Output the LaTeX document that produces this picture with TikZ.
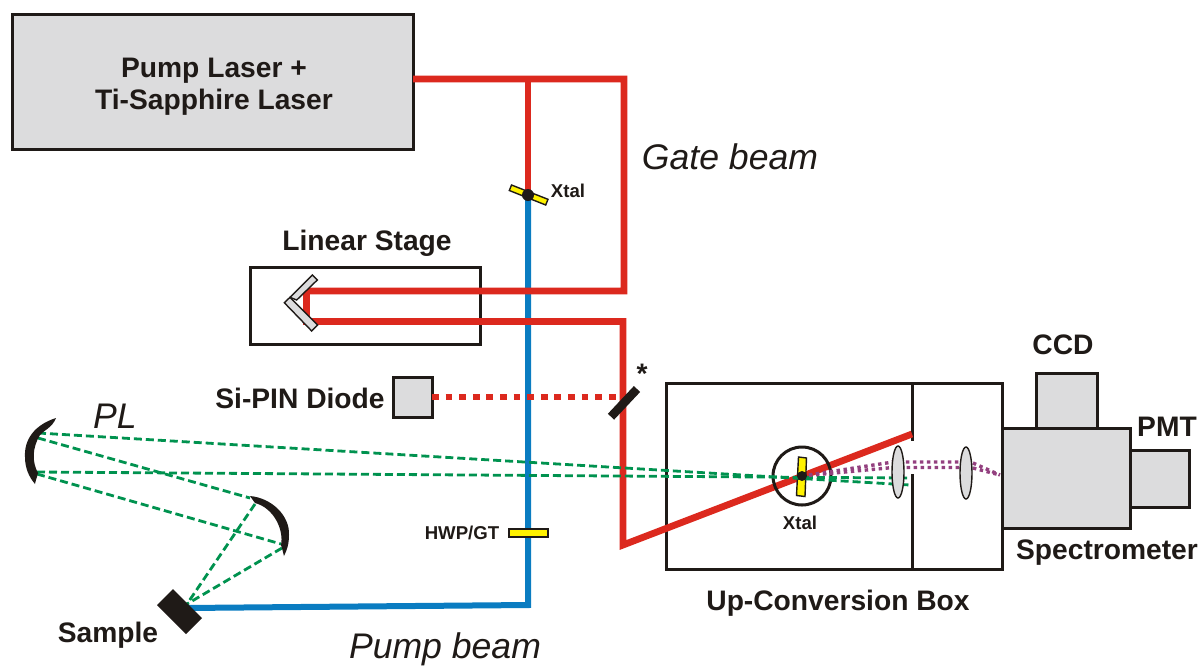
\documentclass[tikz,border=0pt]{standalone}
\usepackage{fontspec}
\setmainfont{Liberation Sans}
\definecolor{inkc}{HTML}{1F1A17}
\definecolor{redc}{HTML}{DC291E}
\definecolor{bluec}{HTML}{0A7CC1}
\definecolor{greenc}{HTML}{00924F}
\definecolor{purplec}{HTML}{93407F}
\definecolor{grayc}{HTML}{DCDCDD}
\definecolor{yelc}{HTML}{FFF200}
\tikzset{
  boxn/.style={draw=inkc,line width=1.5pt,fill=grayc,minimum width=0pt,inner sep=0pt},
  outline/.style={draw=inkc,line width=1.5pt},
  redbeam/.style={draw=redc,line width=3.4pt,line join=miter},
  bluebeam/.style={draw=bluec,line width=3pt},
  greenbeam/.style={draw=greenc,line width=1.4pt,dash pattern=on 4pt off 2pt},
  reddots/.style={draw=redc,line width=3.3pt,dash pattern=on 3.4pt off 3.4pt},
  purpledots/.style={draw=purplec,line width=1.7pt,dash pattern=on 1.7pt off 1.8pt},
  big/.style={anchor=base,text=inkc,font=\fontsize{14.1}{16}\selectfont\bfseries,inner sep=0pt},
  small/.style={anchor=base,text=inkc,font=\fontsize{9.3}{11}\selectfont\bfseries,inner sep=0pt},
  beamlabel/.style={anchor=base,text=inkc,font=\fontsize{17.8}{20}\selectfont\itshape,inner sep=0pt},
  optic/.style={fill=grayc,draw=inkc,line width=0.7pt},
  plate/.style={fill=yelc,draw=inkc,line width=0.7pt},
  blackfill/.style={fill=inkc,draw=none}
}
\begin{document}
\begin{tikzpicture}[x=0.5pt,y=-0.5pt]
\useasboundingbox (0,0) rectangle (1200,666);

% boxes
\draw[boxn] (12,14) rectangle (413,149);
\coordinate (laserout) at (413,79);
\draw[outline] (250,267) rectangle (480,344);
\draw[outline] (666,383) rectangle (1002,569);
\draw[outline] (912,383) -- (912,441);
\draw[outline] (912,474) -- (912,569);
\draw[boxn] (1036,373) rectangle (1097,428);
\draw[boxn] (1130,450) rectangle (1189,507);
\draw[boxn] (1002,428) rectangle (1130,528);
\draw[boxn] (393,377) rectangle (432,417);

% named beam points
\coordinate (split) at (528,79);
\coordinate (xt1) at (528,195);
\coordinate (pumpcorner) at (528,605);
\coordinate (samp) at (185,608);
\coordinate (xt2) at (802,476);
\coordinate (ga) at (624,79);
\coordinate (gb) at (624,291);
\coordinate (gc) at (306.5,291);
\coordinate (gd) at (306.5,321.5);
\coordinate (ge) at (623,321.5);
\coordinate (gf) at (623,545);
\coordinate (gg) at (912,434);
\coordinate (m1a) at (38,433);
\coordinate (m1b) at (38,438);
\coordinate (m1c) at (37,472);
\coordinate (m1d) at (37,474);
\coordinate (m2a) at (250,498);
\coordinate (m2b) at (255,504);
\coordinate (m2c) at (281,544);
\coordinate (m2d) at (282,548);
\coordinate (sa) at (187,604);
\coordinate (ga1) at (910,485);
\coordinate (ga2) at (907,478);
\coordinate (pin) at (432,397);
\coordinate (bs) at (622,397);

% beams
\draw[bluebeam] (xt1) -- (pumpcorner) -- (samp);
\draw[redbeam] (split) -- (xt1);
\draw[redbeam] (laserout) -- (ga) -- (gb) -- (gc) -- (gd) -- (ge) -- (gf) -- (gg);
\draw[reddots] (pin) -- (bs);

% xtal in box
\draw[inkc,line width=1.5pt] (xt2) circle (29);
\draw[plate] (798.5,457) -- (806.5,458) -- (805,496.5) -- (796.5,495.5) -- cycle;

% green
\draw[greenbeam] (m1a) -- (ga1);
\draw[greenbeam] (m1c) -- (ga2);
\draw[greenbeam] (m1b) -- (m2a);
\draw[greenbeam] (m1d) -- (m2c);
\draw[greenbeam] (m2b) -- (sa);
\draw[greenbeam] (m2d) -- (sa);

% purple
\coordinate (l1a) at (893,462);
\coordinate (l1b) at (893,467.5);
\coordinate (l2a) at (962,462);
\coordinate (l2b) at (962,467.5);
\coordinate (l3a) at (973,463);
\coordinate (l3b) at (973,468);
\coordinate (spec) at (1000,475);
\draw[purpledots] (xt2) -- (l1a) -- (l2a);
\draw[purpledots] (xt2) -- (l1b) -- (l2b);
\draw[purpledots] (l3a) -- (spec);
\draw[purpledots] (l3b) -- (spec);
\fill[inkc] (xt2) circle (5);

% lenses
\draw[optic] (898,472) ellipse (6 and 26);
\draw[optic] (966,473) ellipse (6 and 26);

% top crystal
\draw[plate] (511.5,185) -- (548,199.3) -- (545.7,205) -- (509.3,190.5) -- cycle;
\fill[inkc] (xt1) ellipse (6 and 6);

% hwp
\draw[plate] (509,529) rectangle (548,537);

% beam splitter
\draw[draw=inkc,line width=4.3pt] (611,416.7) -- (637,389);

% retroreflector
\draw[optic] (290,297.3) -- (312.3,275) -- (317.3,280) -- (296.7,300) -- cycle;
\draw[optic] (284.3,302.7) -- (290,297.3) -- (317.7,325) -- (311.7,331) -- cycle;

% curved mirrors
\fill[blackfill] (56,418) .. controls (34,425) and (24,440) .. (25,457) .. controls (25,468) and (29,477) .. (35,484)
  .. controls (36,478) and (38,476) .. (38,473) .. controls (32,462) and (32,448) .. (40,435) .. controls (44,430) and (52,428) .. (56,418) -- cycle;
\fill[blackfill] (250,496) .. controls (272,498) and (290,516) .. (289,535) .. controls (289,544) and (287,550) .. (284,556)
  .. controls (283,552) and (282,548) .. (281,545) .. controls (284,530) and (274,508) .. (255,503) -- cycle;

% sample
\fill[blackfill] (173,589) -- (202,618) -- (186,634) -- (157,605) -- cycle;

% labels
\node[big] (t1) at (214,77) {Pump Laser +};
\node[big] (t2) at (214,109) {Ti-Sapphire Laser};
\node[beamlabel] (t3) at (730,169) {Gate beam};
\node[small] (t4) at (568,197) {Xtal};
\node[big] (t5) at (367,250) {Linear Stage};
\node[big] (t6) at (300,408) {Si-PIN Diode};
\node[big] (t7) at (642,383) {*};
\node[beamlabel] (t8) at (115,428) {PL};
\node[small] (t9) at (462,539) {HWP/GT};
\node[small] (t10) at (800,529) {Xtal};
\node[big] (t11) at (108,642) {Sample};
\node[beamlabel] (t12) at (445,658) {Pump beam};
\node[big] (t13) at (838,610) {Up-Conversion Box};
\node[big] (t14) at (1107,559) {Spectrometer};
\node[big] (t15) at (1063,354) {CCD};
\node[big] (t16) at (1167,436) {PMT};
\end{tikzpicture}
\end{document}
